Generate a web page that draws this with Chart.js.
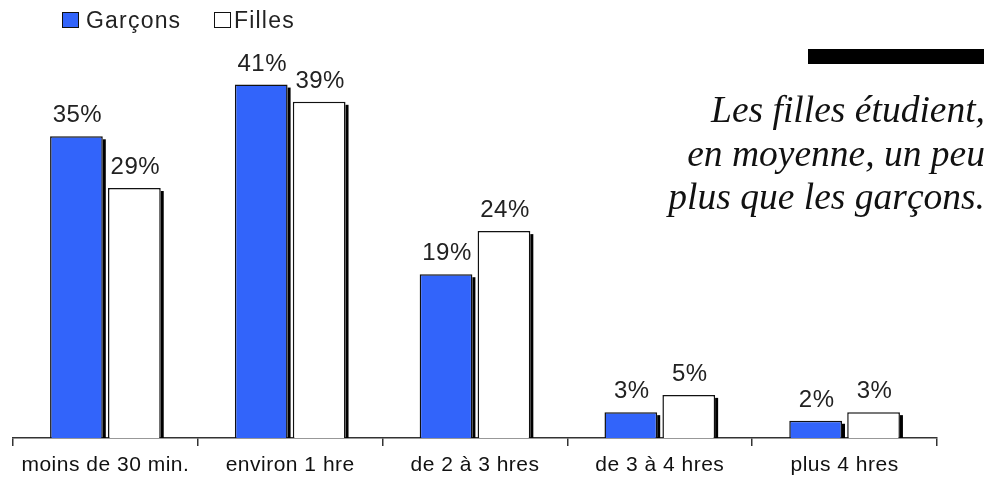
<!DOCTYPE html>
<html>
<head>
<meta charset="utf-8">
<script src="https://cdn.jsdelivr.net/npm/chart.js@4.4.0/dist/chart.umd.min.js"></script>
<style>
  html, body { margin: 0; padding: 0; background: #fff; }
  #wrap { position: relative; width: 989px; height: 483px; overflow: hidden; }
  canvas { position: absolute; left: 0; top: 0; }
  .lg-box { position: absolute; width: 15px; height: 14px; border: 1px solid #111; }
  .lg-txt { position: absolute; font: 23px "Liberation Sans", Arial, sans-serif; line-height: 23px; letter-spacing: 1.2px; color: #222; white-space: nowrap; }
  #note { position: absolute; right: 4px; top: 88px; text-align: right; font: italic 37.5px "Liberation Serif", "Times New Roman", serif; line-height: 43.5px; color: #111; white-space: nowrap; }
  #rule { position: absolute; left: 808px; top: 49px; width: 176px; height: 15px; background: #000; }
</style>
</head>
<body>
<div id="wrap">
  <canvas id="c" width="989" height="483"></canvas>
  <div class="lg-box" style="left:62px;top:12px;background:#3264fa;"></div>
  <div class="lg-txt" id="lg1" style="left:86px;top:9px;"></div>
  <div class="lg-box" style="left:214px;top:12px;background:#fff;"></div>
  <div class="lg-txt" id="lg2" style="left:234px;top:9px;"></div>
  <div id="rule"></div>
  <div id="note">Les filles étudient,<br>en moyenne, un peu<br>plus que les garçons.</div>
</div>
<script>
const categories = ['moins de 30 min.', 'environ 1 hre', 'de 2 à 3 hres', 'de 3 à 4 hres', 'plus 4 hres'];
const seriesNames = ['Garçons', 'Filles'];
const garcons = [35, 41, 19, 3, 2];
const filles = [29, 39, 24, 5, 3];

document.getElementById('lg1').textContent = seriesNames[0];
document.getElementById('lg2').textContent = seriesNames[1];

const shadowPlugin = {
  id: 'barShadow',
  beforeDatasetsDraw(chart) {
    const ctx = chart.ctx;
    ctx.save();
    ctx.fillStyle = '#000';
    chart.data.datasets.forEach((ds, di) => {
      const meta = chart.getDatasetMeta(di);
      meta.data.forEach(el => {
        const p = el.getProps(['x', 'y', 'base', 'width'], true);
        ctx.fillRect(p.x + p.width / 2, p.y + 3, 3, p.base - p.y - 3);
      });
    });
    ctx.restore();
  }
};

const labelPlugin = {
  id: 'valueLabels',
  afterDatasetsDraw(chart) {
    const ctx = chart.ctx;
    ctx.save();
    ctx.font = '24px "Liberation Sans", Arial, sans-serif';
    ctx.letterSpacing = '0.5px';
    ctx.fillStyle = '#222';
    ctx.textAlign = 'center';
    ctx.textBaseline = 'alphabetic';
    chart.data.datasets.forEach((ds, di) => {
      const meta = chart.getDatasetMeta(di);
      meta.data.forEach((el, i) => {
        const p = el.getProps(['x', 'y'], true);
        ctx.fillText(ds.data[i] + '%', p.x + 1, p.y - 14);
      });
    });
    ctx.restore();
  }
};

const spacingPlugin = {
  id: 'tickSpacing',
  beforeDraw(chart) { chart.ctx.letterSpacing = '0.5px'; },
  afterDraw(chart) { chart.ctx.letterSpacing = '0px'; }
};

new Chart(document.getElementById('c'), {
  type: 'bar',
  data: {
    labels: categories,
    datasets: [
      { label: seriesNames[0], data: garcons, backgroundColor: '#3264fa', borderColor: '#111', borderWidth: 1.5, borderSkipped: 'bottom' },
      { label: seriesNames[1], data: filles, backgroundColor: '#ffffff', borderColor: '#111', borderWidth: 1.5, borderSkipped: 'bottom' }
    ]
  },
  options: {
    responsive: false,
    animation: false,
    layout: { padding: { left: 13, right: 52, top: 7, bottom: 0 } },
    datasets: { bar: { categoryPercentage: 0.627, barPercentage: 0.91 } },
    plugins: { legend: { display: false }, tooltip: { enabled: false } },
    scales: {
      x: {
        offset: true,
        grid: { offset: true, display: true, drawOnChartArea: false, drawTicks: true, tickLength: 8, color: '#333', lineWidth: 1.5 },
        border: { display: true, color: '#333', width: 1.5 },
        ticks: { color: '#111', font: { family: '"Liberation Sans", Arial, sans-serif', size: 21 }, padding: 7, maxRotation: 0, autoSkip: false },
        afterFit(scale) { scale.height = 45; }
      },
      y: { display: false, min: 0, max: 50 }
    }
  },
  plugins: [shadowPlugin, labelPlugin, spacingPlugin]
});
</script>
</body>
</html>
